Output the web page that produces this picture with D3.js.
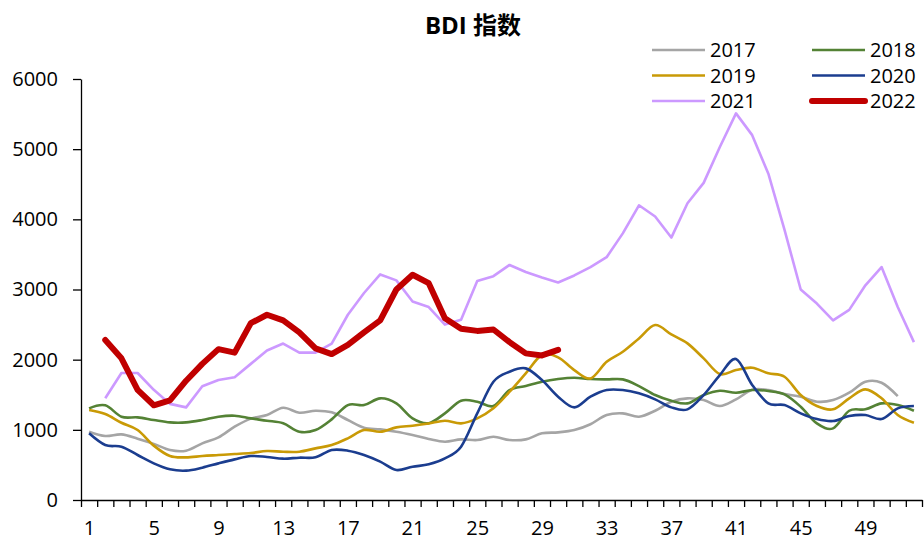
<!DOCTYPE html>
<html>
<head>
<meta charset="utf-8">
<script src="https://cdn.jsdelivr.net/npm/d3@7"></script>
<style>
  body { margin: 0; background: #fff; }
  text { font-family: "Open Sans", "Noto Sans CJK SC", sans-serif; fill: #000; }
  .axis path, .axis line { stroke: #000; stroke-width: 1.3; }
</style>
</head>
<body>
<div id="chart"></div>
<script>
// weekly BDI, index = week - 1, null = no data
var weeks = d3.range(1, 53);
var yTicks = [0, 1000, 2000, 3000, 4000, 5000, 6000];
var xLabels = [1, 5, 9, 13, 17, 21, 25, 29, 33, 37, 41, 45, 49];

var s2017 = [973, 912, 935, 874, 800, 712, 703, 807, 893, 1045, 1160, 1211, 1315, 1244, 1272, 1249, 1140, 1030, 1006, 973,
  926, 870, 831, 864, 855, 902, 855, 864, 950, 964, 997, 1080, 1211, 1235, 1187, 1272, 1401, 1449, 1424, 1339,
  1434, 1570, 1567, 1510, 1472, 1401, 1424, 1529, 1685, 1671, 1481, null];
var s2018 = [1306, 1349, 1187, 1178, 1140, 1106, 1106, 1140, 1187, 1201, 1163, 1130, 1093, 973, 997, 1149, 1353, 1353, 1449, 1377,
  1163, 1095, 1235, 1415, 1401, 1339, 1567, 1624, 1685, 1724, 1742, 1724, 1719, 1719, 1624, 1496, 1415, 1377, 1496, 1557,
  1529, 1567, 1553, 1505, 1330, 1092, 1021, 1272, 1292, 1377, 1353, 1272];
var s2019 = [1282, 1225, 1101, 997, 775, 627, 608, 627, 641, 655, 670, 698, 688, 688, 736, 783, 879, 997, 973, 1035,
  1059, 1090, 1130, 1092, 1163, 1306, 1543, 1805, 2066, 2033, 1852, 1733, 1970, 2113, 2303, 2493, 2360, 2232, 2018, 1795,
  1852, 1885, 1805, 1757, 1496, 1339, 1292, 1449, 1577, 1449, 1211, 1101];
var s2020 = [950, 783, 760, 641, 522, 437, 418, 461, 522, 579, 627, 613, 589, 603, 608, 712, 703, 641, 546, 427,
  475, 508, 594, 760, 1235, 1685, 1828, 1876, 1709, 1472, 1320, 1472, 1567, 1567, 1520, 1434, 1320, 1292, 1496, 1781,
  2010, 1640, 1377, 1353, 1235, 1154, 1125, 1197, 1211, 1154, 1306, 1339];
var s2021 = [null, 1450, 1810, 1810, 1570, 1370, 1320, 1620, 1710, 1750, 1940, 2130, 2230, 2100, 2100, 2230, 2640, 2950, 3215, 3130,
  2830, 2750, 2500, 2570, 3120, 3190, 3350, 3250, 3170, 3100, 3200, 3320, 3460, 3800, 4200, 4040, 3740, 4230, 4520, 5030,
  5510, 5200, 4650, 3850, 3000, 2800, 2560, 2710, 3060, 3320, 2750, 2250];
var s2022 = [null, 2280, 2020, 1570, 1350, 1420, 1700, 1940, 2150, 2100, 2520, 2640, 2560, 2390, 2160, 2080, 2210, 2390, 2560, 3000,
  3210, 3090, 2590, 2440, 2410, 2430, 2250, 2090, 2060, 2140];

var series = [
  { name: '2017', values: s2017, color: '#A5A5A5', width: 2.6, smooth: true },
  { name: '2018', values: s2018, color: '#548235', width: 2.6, smooth: true },
  { name: '2019', values: s2019, color: '#C99A06', width: 2.6, smooth: true },
  { name: '2020', values: s2020, color: '#1B3D8F', width: 2.6, smooth: true },
  { name: '2021', values: s2021, color: '#CC99FF', width: 2.6, smooth: false },
  { name: '2022', values: s2022, color: '#C00000', width: 6, smooth: false }
];

var chartW = 924, chartH = 540;
var plotL = 81, plotR = 922, plotT = 79, plotB = 500;
var fontPx = '20px';

var svg = d3.select('#chart').append('svg')
  .attr('width', chartW)
  .attr('height', chartH);

var x = d3.scaleLinear().domain([0.5, 52.5]).range([plotL, plotR]);
var y = d3.scaleLinear().domain([0, 6000]).range([plotB, plotT]);

// title
svg.append('text')
  .attr('x', 473).attr('y', 34)
  .attr('text-anchor', 'middle')
  .style('font-size', '24px').style('font-weight', 'bold')
  .text('BDI 指数');

// y axis
var gy = svg.append('g').classed('axis', true)
  .attr('transform', 'translate(' + plotL + ',0)')
  .call(d3.axisLeft(y).tickValues(yTicks).tickSize(8).tickSizeOuter(0).tickPadding(15).tickFormat(d3.format('d')));
gy.selectAll('text').style('font-size', fontPx);

// x axis: ticks between weeks, labels on week centres
var gx = svg.append('g').classed('axis', true)
  .attr('transform', 'translate(0,' + plotB + ')')
  .call(d3.axisBottom(x).tickValues(d3.range(0.5, 53, 1)).tickSize(7).tickSizeOuter(0).tickFormat(''));
var gxl = svg.append('g').classed('axis', true)
  .attr('transform', 'translate(0,' + plotB + ')')
  .call(d3.axisBottom(x).tickValues(xLabels).tickSize(0).tickPadding(21).tickFormat(d3.format('d')));
gxl.select('.domain').remove();
gxl.selectAll('text').style('font-size', fontPx);

// lines
var g = svg.append('g');
series.forEach(function(s) {
  var line = d3.line()
    .defined(function(d) { return d != null; })
    .x(function(d, i) { return x(weeks[i]); })
    .y(function(d) { return y(d); })
    .curve(s.smooth ? d3.curveCardinal.tension(0) : d3.curveLinear);
  g.append('path')
    .datum(s.values)
    .attr('fill', 'none')
    .attr('stroke', s.color)
    .attr('stroke-width', s.width)
    .attr('stroke-linejoin', 'round')
    .attr('stroke-linecap', s.name === '2022' ? 'round' : 'butt')
    .attr('d', line);
});

// legend, two columns
var legend = svg.append('g');
var items = legend.selectAll('g').data(series).enter().append('g')
  .attr('transform', function(d, i) {
    return 'translate(' + (i % 2 ? 812 : 652) + ',' + (50 + Math.floor(i / 2) * 25.5) + ')';
  });
items.append('line')
  .attr('x1', 0).attr('x2', 53)
  .attr('stroke', function(d) { return d.color; })
  .attr('stroke-width', function(d) { return d.width; })
  .attr('stroke-linecap', function(d) { return d.name === '2022' ? 'round' : 'butt'; });
items.append('text')
  .attr('x', 58).attr('dy', '0.36em')
  .style('font-size', fontPx)
  .text(function(d) { return d.name; });
</script>
</body>
</html>
